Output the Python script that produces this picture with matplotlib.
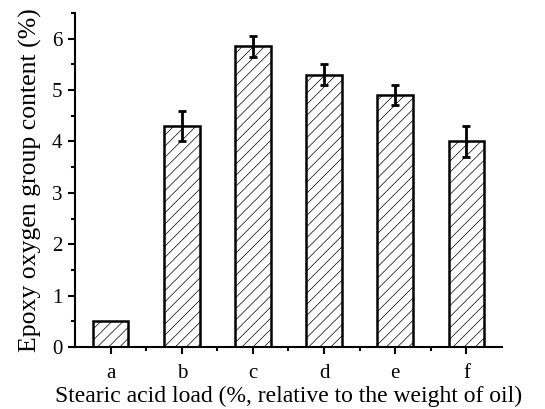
import matplotlib
matplotlib.use("Agg")
import matplotlib.pyplot as plt
from matplotlib.ticker import MultipleLocator

categories = ["a", "b", "c", "d", "e", "f"]
content = [0.5, 4.3, 5.85, 5.3, 4.9, 4.0]
errors = [0.0, 0.3, 0.2, 0.2, 0.2, 0.3]

plt.rcParams["font.family"] = ["Liberation Serif", "DejaVu Serif"]
plt.rcParams["hatch.linewidth"] = 0.5
plt.rcParams["hatch.color"] = "#666666"

fig = plt.figure(figsize=(5.45, 4.09), dpi=100)
ax = fig.add_axes([75 / 545, 1 - 347 / 409, 427 / 545, 334 / 409])

x = list(range(len(categories)))
ax.bar(x, content, width=0.5, facecolor="white", edgecolor="black",
       linewidth=1.8, hatch="///", zorder=2)
err_x = [i for i, e in zip(x, errors) if e > 0]
err_y = [v for v, e in zip(content, errors) if e > 0]
err_e = [e for e in errors if e > 0]
ax.errorbar(err_x, err_y, yerr=err_e, fmt="none", ecolor="black",
            elinewidth=2, capsize=3, capthick=2, zorder=3)

ax.set_xlim(-0.5, 5.5)
ax.set_ylim(0, 6.5)
ax.set_xticks(x)
ax.set_xticklabels(categories)
ax.set_xticks([i + 0.5 for i in x[:-1]], minor=True)
ax.yaxis.set_major_locator(MultipleLocator(1))
ax.yaxis.set_minor_locator(MultipleLocator(0.5))

ax.spines["top"].set_visible(False)
ax.spines["right"].set_visible(False)
ax.spines["left"].set_linewidth(1.5)
ax.spines["bottom"].set_linewidth(1.5)
ax.tick_params(axis="both", which="major", direction="out", length=5,
               width=1.5, labelsize=15)
ax.tick_params(axis="y", which="major", pad=4)
ax.tick_params(axis="x", which="major", pad=7)
ax.tick_params(axis="both", which="minor", direction="out", length=3,
               width=1.5)

ax.set_xlabel("Stearic acid load (%, relative to the weight of oil)",
              fontsize=17, labelpad=2)
ax.set_ylabel("Epoxy oxygen group content (%)", fontsize=18.5, labelpad=7)

fig.savefig("out.png", dpi=100)
